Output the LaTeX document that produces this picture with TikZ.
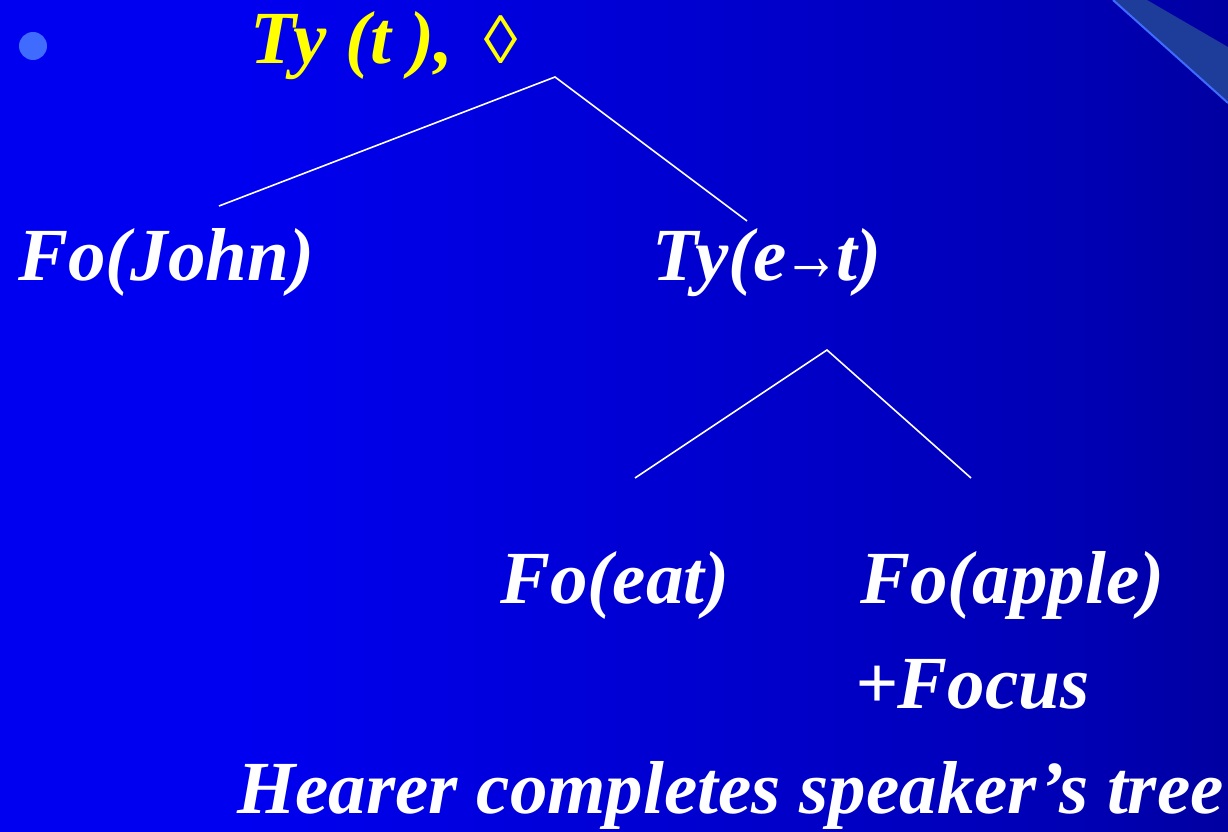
\documentclass[tikz,border=0pt]{standalone}
\usepackage{fontspec}
\usepackage{graphicx}
\setmainfont{Liberation Serif}
\usetikzlibrary{positioning}

\definecolor{slideblue}{RGB}{0,0,240}
\definecolor{slidemid}{RGB}{0,0,178}
\definecolor{slidenavy}{RGB}{0,0,72}
\definecolor{bandblue}{RGB}{30,60,154}
\definecolor{edgeblue}{RGB}{63,107,255}
\definecolor{tyyellow}{RGB}{255,255,0}
\pgfdeclarehorizontalshading{slidebg}{100bp}{color(0bp)=(slideblue); color(35bp)=(slideblue); color(70bp)=(slidemid); color(100bp)=(slidenavy)}

\tikzset{
  treetext/.style={text=white, font=\fontsize{75}{80}\selectfont\bfseries\itshape,
                   inner sep=0pt, anchor=base west},
  branch/.style={white, line width=1.6pt},
}

\begin{document}
\begin{tikzpicture}[x=1pt, y=-1pt]
  % slide background
  \shade[shading=slidebg] (0,0) rectangle (1228,832);
  \useasboundingbox (0,0) rectangle (1228,832);
  \fill[bandblue] (1113,0) -- (1147,0) -- (1228,47) -- (1228,103) -- cycle;
  \draw[edgeblue, line width=2pt] (1113,0) -- (1228,103);
  \fill[edgeblue] (33,46) circle (14);

  % nodes
  \node[treetext, text=tyyellow] (root) at (250,64)
        {Ty (t ),\hspace{30pt}{\fontsize{68}{70}\selectfont ◊}};
  \node[treetext] (john) at (18,280) {Fo(John)};
  \node[treetext] (pred) at (652,280)
        {Ty(e\kern-3pt\scalebox{0.75}[1]{→}\kern-4pt t)};
  \node[treetext] (eat) at (500,603) {Fo(eat)};
  \node[treetext] (apple) at (860,603) {Fo(apple)};
  \node[treetext] (focus) at (855,708) {+Focus};
  \node[treetext] (caption) at (237,813) {Hearer completes speaker’s tree};

  % branches
  \coordinate (rootapex) at (555,77);
  \coordinate (johnend) at (219,206);
  \coordinate (predend) at (747,221);
  \coordinate (predapex) at (827,350);
  \coordinate (eatend) at (635,478);
  \coordinate (appleend) at (971,478);
  \draw[branch] (johnend) -- (rootapex) -- (predend);
  \draw[branch] (eatend) -- (predapex) -- (appleend);
\end{tikzpicture}
\end{document}
